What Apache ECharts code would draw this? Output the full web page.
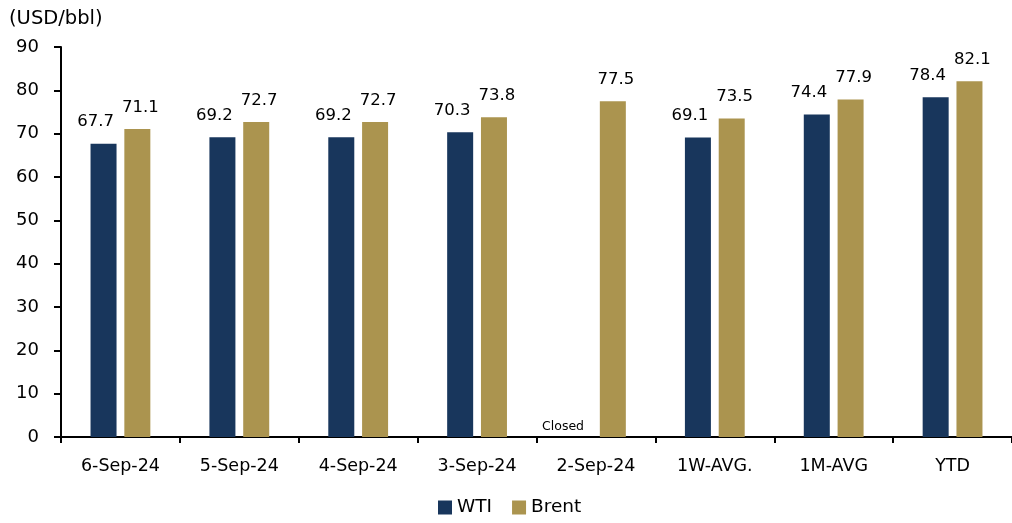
<!DOCTYPE html>
<html>
<head>
<meta charset="utf-8">
<script src="https://cdn.jsdelivr.net/npm/echarts@6/dist/echarts.min.js"></script>
<style>html,body{margin:0;padding:0;background:#fff;}#c{width:1012px;height:523px;}</style>
</head>
<body>
<div id="c"></div>
<script>
var categories = ['6-Sep-24', '5-Sep-24', '4-Sep-24', '3-Sep-24', '2-Sep-24', '1W-AVG.', '1M-AVG', 'YTD'];
var wti = [67.7, 69.2, 69.2, 70.3, null, 69.1, 74.4, 78.4];
var brent = [71.1, 72.7, 72.7, 73.8, 77.5, 73.5, 77.9, 82.1];
var yTicks = [0, 10, 20, 30, 40, 50, 60, 70, 80, 90];
var closedText = 'Closed';
var unitLabel = '(USD/bbl)';

var FONT = 'DejaVu Sans';
var wtiData = wti.map(function (v) {
  if (v === null) {
    return { value: 0, label: { formatter: closedText, fontSize: 12.5, distance: 4, offset: [-16, 0] } };
  }
  return v;
});

var chart = echarts.init(document.getElementById('c'));
chart.setOption({
  animation: false,
  textStyle: { fontFamily: FONT },
  grid: { left: 61, right: -5, top: 47, bottom: 86 },
  title: {
    text: unitLabel, left: 4, top: 4,
    textStyle: { fontFamily: FONT, fontSize: 19.5, fontWeight: 'normal', color: '#000' }
  },
  legend: {
    bottom: 1, left: 433, itemWidth: 14, itemHeight: 14, itemGap: 20, icon: 'rect',
    textStyle: { fontFamily: FONT, fontSize: 18.5, color: '#000' },
    data: ['WTI', 'Brent']
  },
  xAxis: {
    type: 'category', data: categories,
    axisLine: { lineStyle: { color: '#000', width: 2 } },
    axisTick: { show: true, length: 6, lineStyle: { color: '#000', width: 2 } },
    axisLabel: { fontFamily: FONT, fontSize: 17.5, color: '#000', margin: 20 }
  },
  yAxis: {
    type: 'value', min: yTicks[0], max: yTicks[yTicks.length - 1], interval: 10,
    axisLine: { show: true, lineStyle: { color: '#000', width: 2 } },
    axisTick: { show: true, length: 7, lineStyle: { color: '#000', width: 2 } },
    splitLine: { show: false },
    axisLabel: { fontFamily: FONT, fontSize: 18, color: '#000', margin: 22 }
  },
  series: [
    {
      name: 'WTI', type: 'bar', data: wtiData, barWidth: 26, barGap: '30%',
      itemStyle: { color: '#18365C' },
      label: { show: true, position: 'top', distance: 13, offset: [-8, 0], fontFamily: FONT, fontSize: 16.5, color: '#000' }
    },
    {
      name: 'Brent', type: 'bar', data: brent, barWidth: 26,
      itemStyle: { color: '#AB944F' },
      label: { show: true, position: 'top', distance: 13, offset: [3, 0], fontFamily: FONT, fontSize: 16.5, color: '#000' }
    }
  ]
});
</script>
</body>
</html>
